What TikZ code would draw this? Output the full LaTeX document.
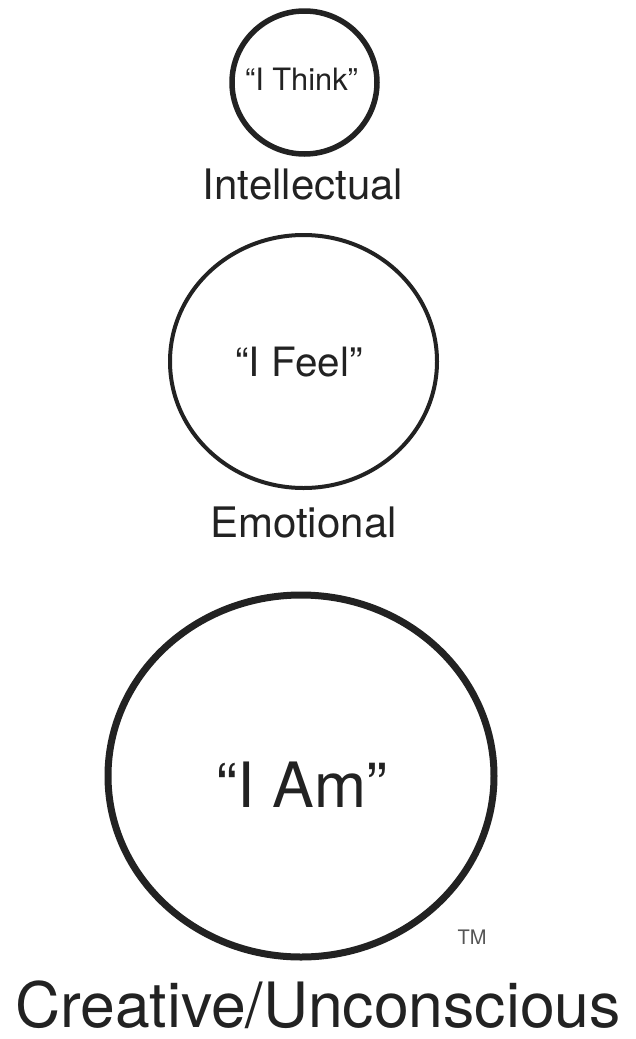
\documentclass[tikz,border=0pt]{standalone}
\usepackage{fontspec}
\setmainfont{TeX Gyre Heros}
\usetikzlibrary{shapes.geometric}
\definecolor{ink}{HTML}{222222}
\definecolor{tmgray}{HTML}{555555}
\tikzset{
  ring/.style={ellipse, draw=ink, inner sep=0pt, outer sep=0pt},
  lbl/.style={anchor=base, inner sep=0pt, outer sep=0pt, text=ink},
}
\begin{document}
\begin{tikzpicture}[x=1pt,y=-1pt]
\useasboundingbox[fill=white] (0,0) rectangle (636,1039);
% circles
\node[ring, line width=5.5pt, minimum width=145pt, minimum height=143pt] (think) at (304.5,82.5) {};
\node[ring, line width=4pt, minimum width=267pt, minimum height=253pt] (feel) at (303.5,361.5) {};
\node[ring, line width=7pt, minimum width=386pt, minimum height=362pt] (am) at (301,776) {};
% inner texts
\node[lbl, font=\fontsize{30.8}{36}\selectfont] (tthink) at (301.5,90) {“I Think”};
\node[lbl, font=\fontsize{40.4}{48}\selectfont] (tfeel) at (299,376) {“I Feel”};
\node[lbl, font=\fontsize{62.5}{74}\selectfont] (tam) at (302,807) {“I Am”};
% captions
\node[lbl, font=\fontsize{42}{50}\selectfont] (intel) at (303,199) {Intellectual};
\node[lbl, font=\fontsize{42}{50}\selectfont] (emo) at (303.5,537) {Emotional};
\node[lbl, font=\fontsize{62.5}{74}\selectfont] (crea) at (318,1027) {Creative/Unconscious};
\node[lbl, text=tmgray, font=\fontsize{20}{24}\selectfont] (tm) at (472,944) {TM};
\end{tikzpicture}
\end{document}
